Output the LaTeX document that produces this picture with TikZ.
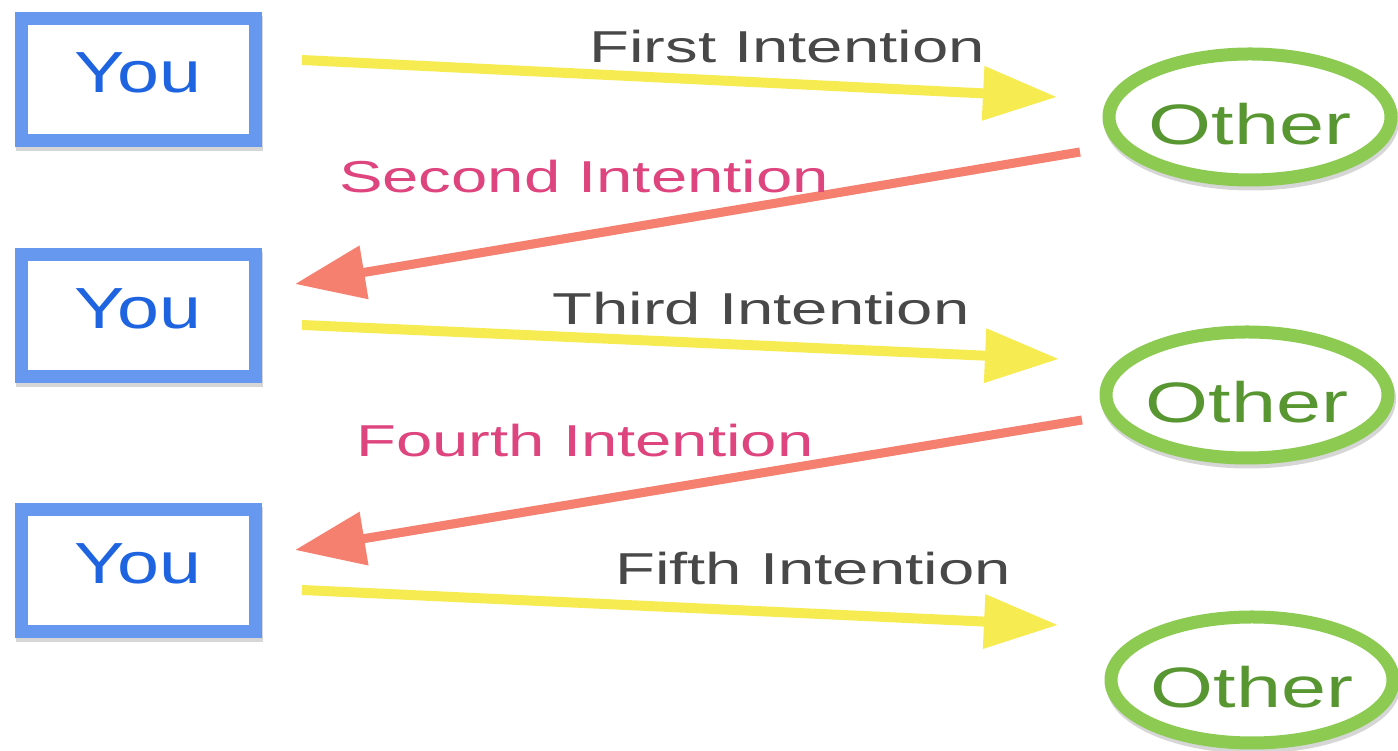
\documentclass[tikz,border=0pt]{standalone}
\usepackage{fontspec}
\usetikzlibrary{arrows.meta,shapes.geometric}

% Widened sans faces for the labels
\newfontfamily\labfont[FakeStretch=1.46]{Liberation Sans}
\newfontfamily\youfont[FakeStretch=1.3]{Liberation Sans}
\newfontfamily\othfont[FakeStretch=1.42]{Liberation Sans}

\definecolor{boxblue}{RGB}{102,152,240}
\definecolor{youblue}{RGB}{30,100,225}
\definecolor{ellgreen}{RGB}{140,202,82}
\definecolor{othgreen}{RGB}{88,150,50}
\definecolor{arrowyellow}{RGB}{246,236,82}
\definecolor{arrowred}{RGB}{245,128,112}
\definecolor{pinktext}{RGB}{222,68,125}
\definecolor{graytext}{RGB}{72,72,72}

\tikzset{
  softshadow/.style={preaction={draw=black, opacity=0.16,
      transform canvas={shift={(1.5pt,-4pt)}}}},
  youbox/.style={draw=boxblue, fill=white, line width=13pt, outer sep=0pt,
    minimum width=234pt, minimum height=122pt, inner sep=0pt,
    text=youblue, font=\youfont\fontsize{58}{60}\selectfont,
    text height=42pt, text depth=16pt, softshadow},
  othell/.style={ellipse, draw=ellgreen, fill=white, line width=13pt, outer sep=0pt,
    minimum width=282pt, minimum height=126pt, inner ysep=0pt, inner xsep=-3pt,
    text=othgreen, font=\othfont\fontsize{57}{60}\selectfont,
    text height=56pt, text depth=0pt, softshadow},
  yarrow/.style={draw=arrowyellow, line width=10pt,
    -{Triangle[length=74pt,width=52pt]}, softshadow},
  rarrow/.style={draw=arrowred, line width=9pt,
    -{Triangle[length=70pt,width=52pt]}, softshadow},
  graylab/.style={anchor=base, inner sep=0pt, text=graytext,
    font=\labfont\fontsize{44.7}{50}\selectfont},
  pinklab/.style={anchor=base, inner sep=0pt, text=pinktext,
    font=\labfont\fontsize{44.7}{50}\selectfont},
}

\begin{document}
\begin{tikzpicture}[x=1pt,y=1pt]
\useasboundingbox (0,0) rectangle (1398,751);
\fill[white] (0,0) rectangle (1398,751);

% Participants
\node[youbox] (you1) at (138,671) {You};
\node[youbox] (you2) at (138,435) {You};
\node[youbox] (you3) at (138,180) {You};

\node[othell] (oth1) at (1250,634) {Other};
\node[othell] (oth2) at (1247,356) {Other};
\node[othell] (oth3) at (1252,71) {Other};

% Exchanges
\draw[yarrow] ([shift={(47,20)}]you1.east) -- ([shift={(-52,20)}]oth1.west);
\draw[rarrow] ([shift={(-29,-35)}]oth1.west) -- ([shift={(40,32)}]you2.east);
\draw[yarrow] ([shift={(47,-9)}]you2.east) -- ([shift={(-47,36)}]oth2.west);
\draw[rarrow] ([shift={(-24,-25)}]oth2.west) -- ([shift={(40,21)}]you3.east);
\draw[yarrow] ([shift={(47,-19)}]you3.east) -- ([shift={(-53,55)}]oth3.west);

% Labels
\node[graylab] (l1) at (787,688) {First Intention};
\node[pinklab] (l2) at (584,558) {Second Intention};
\node[graylab] (l3) at (761,426) {Third Intention};
\node[pinklab] (l4) at (585,294) {Fourth Intention};
\node[graylab] (l5) at (813,166) {Fifth Intention};
\end{tikzpicture}
\end{document}
